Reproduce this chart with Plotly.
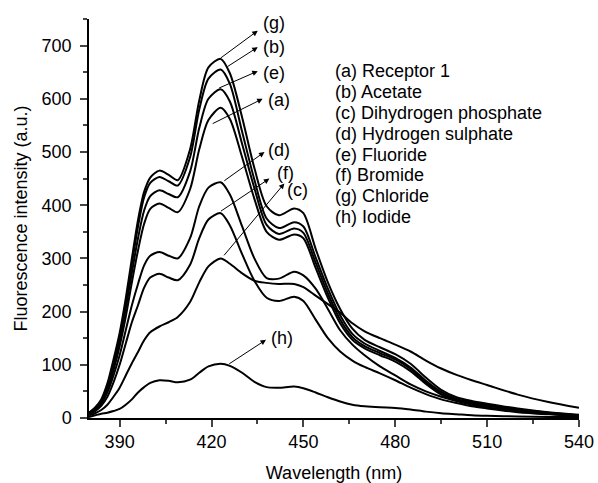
import plotly.graph_objects as go

# Wavelength grid (nm)
wavelength = [380, 382, 384, 386, 388, 390, 392, 394, 396, 398, 400, 403, 406, 409,
              413, 416, 419, 423, 426, 430, 434, 438, 442, 447, 450, 454, 458, 462,
              466, 470, 475, 480, 485, 490, 495, 500, 505, 510, 520, 530, 540]

# Fluorescence intensity (a.u.) per series
receptor_a = [9, 16, 28, 52, 90, 135, 190, 255, 315, 365, 393, 403, 395, 387,
              430, 505, 560, 583, 562, 490, 412, 350, 335, 345, 338, 282, 226, 178,
              147, 131, 118, 106, 88, 64, 44, 33, 27, 23, 14, 8, 4]
acetate_b = [10, 19, 33, 61, 104, 153, 216, 290, 360, 415, 442, 453, 445, 437,
             490, 580, 638, 655, 628, 538, 448, 375, 357, 368, 360, 302, 243, 193,
             158, 140, 126, 113, 95, 70, 49, 36, 30, 25, 16, 10, 5]
dihydrogen_phosphate_c = [5, 9, 15, 25, 40, 57, 80, 103, 124, 146, 161, 172, 180, 190,
                          218, 255, 285, 300, 290, 272, 258, 254, 252, 252, 246, 230, 214, 198,
                          178, 163, 150, 138, 125, 108, 93, 81, 71, 62, 44, 30, 19]
hydrogen_sulphate_d = [8, 15, 27, 48, 80, 118, 165, 212, 252, 287, 305, 312, 305, 300,
                       338, 398, 433, 443, 420, 360, 300, 263, 262, 275, 268, 243, 205, 165,
                       138, 118, 97, 80, 63, 50, 40, 32, 25, 20, 13, 8, 5]
fluoride_e = [9, 17, 30, 57, 97, 145, 205, 273, 338, 390, 417, 428, 421, 415,
              463, 545, 600, 618, 595, 515, 432, 363, 346, 356, 348, 292, 234, 185,
              152, 135, 122, 110, 92, 67, 46, 34, 28, 24, 15, 9, 5]
bromide_f = [7, 13, 23, 40, 67, 100, 140, 180, 212, 245, 264, 271, 264, 259,
             288, 338, 373, 385, 362, 308, 258, 226, 220, 228, 220, 185, 150, 125,
             108, 96, 84, 71, 57, 45, 35, 28, 22, 18, 11, 7, 4]
chloride_g = [10, 20, 35, 65, 110, 160, 225, 300, 372, 425, 452, 465, 457, 447,
              505, 597, 659, 675, 648, 565, 470, 398, 381, 394, 385, 318, 255, 205,
              168, 147, 133, 120, 102, 76, 53, 39, 32, 27, 18, 11, 6]
iodide_h = [2, 5, 8, 10, 13, 17, 25, 35, 48, 58, 66, 71, 70, 67,
            72, 85, 97, 102, 98, 85, 68, 58, 57, 59, 56, 48, 39, 31,
            25, 22, 20, 19, 16, 12, 9, 7, 5, 4, 3, 2, 2]

series_letters = ["a", "b", "c", "d", "e", "f", "g", "h"]
series_names = ["Receptor 1", "Acetate", "Dihydrogen phosphate", "Hydrogen sulphate",
                "Fluoride", "Bromide", "Chloride", "Iodide"]
series_values = [receptor_a, acetate_b, dihydrogen_phosphate_c, hydrogen_sulphate_d,
                 fluoride_e, bromide_f, chloride_g, iodide_h]

# Arrow annotations: tail on curve, head near label, label centre (data units)
arrow_letters = ["g", "b", "e", "a", "d", "f", "c", "h"]
arrow_tail_x = [422.6, 424.8, 422.0, 419.9, 423.7, 422.6, 423.7, 425.3]
arrow_tail_y = [675, 659, 619, 552, 444, 387, 303, 100]
arrow_head_x = [435.1, 435.1, 435.1, 436.7, 437.3, 438.9, 443.8, 437.8]
arrow_head_y = [728, 697, 652, 600, 500, 450, 441, 147]
label_x = [440.5, 440.5, 440.5, 442.2, 442.2, 444.1, 448.1, 443.0]
label_y = [742, 697, 648, 598, 503, 460, 428, 150]

FONT = "Liberation Sans, Arial, sans-serif"

fig = go.Figure()
for letter, name, vals in zip(series_letters, series_names, series_values):
    fig.add_trace(go.Scatter(
        x=wavelength, y=vals, mode="lines", name=f"({letter}) {name}",
        line=dict(color="black", width=2, shape="spline", smoothing=0.8),
        showlegend=False, hoverinfo="x+y+name",
    ))

for i, letter in enumerate(arrow_letters):
    fig.add_annotation(
        x=arrow_head_x[i], y=arrow_head_y[i], ax=arrow_tail_x[i], ay=arrow_tail_y[i],
        xref="x", yref="y", axref="x", ayref="y", text="",
        showarrow=True, arrowhead=2, arrowsize=1.1, arrowwidth=1, arrowcolor="black",
        standoff=0, startstandoff=0,
    )
    fig.add_annotation(
        x=label_x[i], y=label_y[i], xref="x", yref="y", text=f"({letter})",
        showarrow=False, font=dict(family=FONT, size=18, color="black"),
        xanchor="center", yanchor="middle",
    )

# Text legend (no swatches), one line per series
legend_x0 = 459.8
legend_y0 = 652
legend_step = 39.2
for i, (letter, name) in enumerate(zip(series_letters, series_names)):
    fig.add_annotation(
        x=legend_x0, y=legend_y0 - i * legend_step, xref="x", yref="y",
        text=f"({letter}) {name}", showarrow=False,
        font=dict(family=FONT, size=18, color="black"),
        xanchor="left", yanchor="middle",
    )

fig.update_layout(
    width=598, height=483,
    margin=dict(l=89, r=19, t=19, b=65, autoexpand=False),
    paper_bgcolor="white", plot_bgcolor="white",
    font=dict(family=FONT, size=18, color="black"),
    showlegend=False,
)
fig.update_xaxes(
    range=[380, 540], tick0=390, dtick=30, ticks="outside", ticklen=7, tickwidth=1.5,
    showline=True, linewidth=1.5, linecolor="black", showgrid=False, zeroline=False,
    minor=dict(ticks="outside", ticklen=4, tickwidth=1.5, tick0=390, dtick=15, showgrid=False),
    title=dict(text="Wavelength (nm)", font=dict(family=FONT, size=18), standoff=15),
    tickfont=dict(family=FONT, size=18), automargin=False,
)
fig.update_yaxes(
    range=[0, 750], tick0=0, dtick=100, ticks="outside", ticklen=7, tickwidth=1.5,
    showline=True, linewidth=1.5, linecolor="black", showgrid=False, zeroline=False,
    minor=dict(ticks="outside", ticklen=4, tickwidth=1.5, tick0=0, dtick=50, showgrid=False),
    title=dict(text="Fluorescence intensity (a.u.)", font=dict(family=FONT, size=18), standoff=9),
    tickfont=dict(family=FONT, size=18), automargin=False, ticklabelstandoff=5,
)

fig.write_html("out.html")
